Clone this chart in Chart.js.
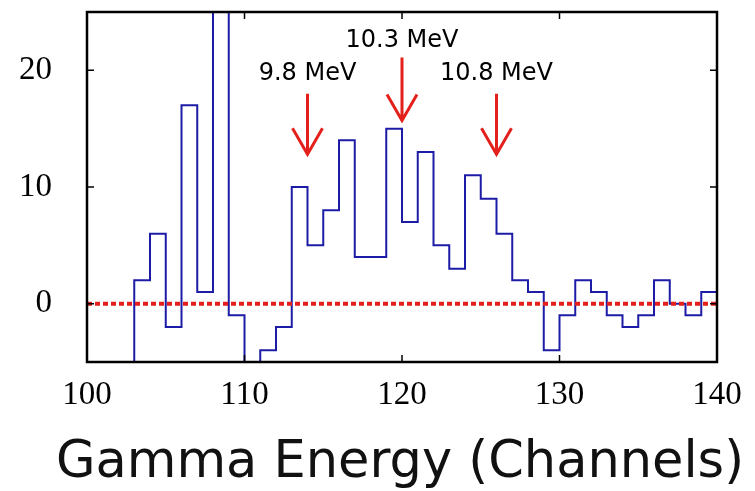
<!DOCTYPE html>
<html>
<head>
<meta charset="utf-8">
<script src="https://cdn.jsdelivr.net/npm/chart.js@4.4.1/dist/chart.umd.min.js"></script>
<style>
  html, body { margin: 0; padding: 0; background: #fff; }
</style>
</head>
<body>
<canvas id="myChart" width="755" height="491"></canvas>
<script>
// bin left edges (channels) and counts, background subtracted
const channels = [102, 103, 104, 105, 106, 107, 108, 109, 110, 111, 112, 113, 114, 115, 116, 117, 118, 119, 120,
    121, 122, 123, 124, 125, 126, 127, 128, 129, 130, 131, 132, 133, 134, 135, 136, 137, 138, 139];
const counts = [-8, 2, 6, -2, 17, 1, 32, -1, -9, -4, -2, 10, 5, 8, 14, 4, 4, 15, 7,
    13, 5, 3, 11, 9, 6, 2, 1, -4, -1, 2, 1, -1, -2, -1, 2, 0, -1, 1];
const lastEdge = 140;

const xTicks = [100, 110, 120, 130, 140];
const yTicks = [0, 10, 20];
const xTitle = 'Gamma Energy (Channels)';

// marked gamma lines
const peakChannels = [114, 120, 126];
const peakLabels = ['9.8 MeV', '10.3 MeV', '10.8 MeV'];
const arrowTops = [18, 21.1, 18];
const arrowTips = [12.8, 15.7, 12.8];
const labelLevels = [19.7, 22.5, 19.7];

const histData = channels.map((c, i) => ({ x: c, y: counts[i] }));
histData.push({ x: lastEdge, y: counts[counts.length - 1] });

const frameAndArrows = {
    id: 'frameAndArrows',
    afterDatasetsDraw(chart) {
        const { ctx, chartArea: a, scales: { x, y } } = chart;
        ctx.save();
        // inward ticks
        ctx.strokeStyle = '#000';
        ctx.lineWidth = 1.5;
        ctx.beginPath();
        xTicks.slice(1, -1).forEach(v => {
            const px = x.getPixelForValue(v);
            ctx.moveTo(px, a.top); ctx.lineTo(px, a.top + 7);
            ctx.moveTo(px, a.bottom); ctx.lineTo(px, a.bottom - 7);
        });
        yTicks.forEach(v => {
            const py = y.getPixelForValue(v);
            ctx.moveTo(a.left, py); ctx.lineTo(a.left + 7, py);
            ctx.moveTo(a.right, py); ctx.lineTo(a.right - 7, py);
        });
        ctx.stroke();
        // frame
        ctx.lineWidth = 2.5;
        ctx.strokeRect(a.left, a.top, a.right - a.left, a.bottom - a.top);

        // arrows + labels
        ctx.strokeStyle = '#e3201b';
        ctx.lineWidth = 3;
        ctx.fillStyle = '#000';
        ctx.font = '24px "DejaVu Sans"';
        ctx.textAlign = 'center';
        ctx.textBaseline = 'middle';
        peakChannels.forEach((ch, i) => {
            const px = x.getPixelForValue(ch);
            const top = y.getPixelForValue(arrowTops[i]);
            const tip = y.getPixelForValue(arrowTips[i]);
            ctx.beginPath();
            ctx.moveTo(px, top);
            ctx.lineTo(px, tip);
            ctx.moveTo(px - 15, tip - 26);
            ctx.lineTo(px, tip);
            ctx.lineTo(px + 15, tip - 26);
            ctx.stroke();
            ctx.fillText(peakLabels[i], px, y.getPixelForValue(labelLevels[i]));
        });

        // axis title, drawn by hand so it is not squeezed to the axis width
        ctx.fillStyle = '#111';
        ctx.font = '51px "DejaVu Sans"';
        ctx.textBaseline = 'alphabetic';
        ctx.fillText(xTitle, 400, 477);
        ctx.restore();
    }
};

const ctx = document.getElementById('myChart');
const myChart = new Chart(ctx, {
    type: 'line',
    data: {
        datasets: [{
            label: 'zero',
            data: [{ x: 100, y: 0 }, { x: 140, y: 0 }],
            borderColor: '#e3201b',
            borderWidth: 4,
            borderDash: [5, 3],
            pointRadius: 0,
        }, {
            label: 'Counts',
            data: histData,
            stepped: 'before',
            borderColor: '#1c1ca6',
            borderWidth: 2,
            pointRadius: 0,
        }]
    },
    options: {
        responsive: false,
        animation: false,
        layout: { padding: { top: 12, right: 38, left: 0, bottom: 0 } },
        plugins: {
            legend: { display: false },
            tooltip: { enabled: false },
        },
        scales: {
            x: {
                type: 'linear',
                min: 100,
                max: 140,
                afterBuildTicks: scale => { scale.ticks = xTicks.map(v => ({ value: v })); },
                afterFit: scale => {
                    scale.height = 129;
                    scale.paddingLeft = 0;
                    scale.paddingRight = 0;
                },
                grid: { display: false, drawTicks: false },
                border: { display: false },
                ticks: {
                    color: '#000',
                    padding: 14,
                    maxRotation: 0,
                    font: { family: '"Liberation Serif"', size: 33 },
                },
            },
            y: {
                min: -5,
                max: 25,
                afterBuildTicks: scale => { scale.ticks = yTicks.map(v => ({ value: v })); },
                afterFit: scale => {
                    scale.width = 87;
                    scale.paddingTop = 0;
                    scale.paddingBottom = 0;
                },
                grid: { display: false, drawTicks: false },
                border: { display: false },
                ticks: {
                    color: '#000',
                    padding: 35,
                    font: { family: '"Liberation Serif"', size: 33 },
                },
            },
        },
    },
    plugins: [frameAndArrows],
});
</script>
</body>
</html>
